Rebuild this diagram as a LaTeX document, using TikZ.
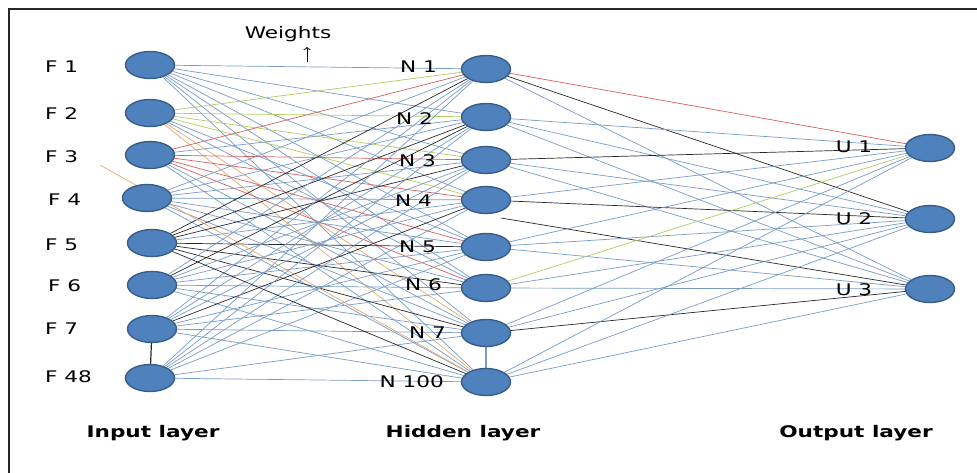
\documentclass[tikz,border=0pt]{standalone}
\usepackage{fontspec}
\setmainfont{DejaVu Sans}[FakeStretch=1.35]
\usetikzlibrary{shapes.geometric,backgrounds,arrows.meta}
\definecolor{nfill}{RGB}{79,129,189}
\definecolor{nedge}{RGB}{56,93,138}
\definecolor{wblue}{RGB}{120,155,200}
\definecolor{wred}{RGB}{215,95,95}
\definecolor{wgreen}{RGB}{175,205,95}
\definecolor{worange}{RGB}{225,170,110}
\definecolor{wblack}{RGB}{40,40,40}
\begin{document}
\begin{tikzpicture}[x=1pt,y=-1pt,
  neuron/.style={ellipse,fill=nfill,draw=nedge,line width=1.4pt,minimum width=49pt,minimum height=27pt,inner sep=0pt},
  wire/.style={line width=0.7pt,wblue},
  lbl/.style={font=\fontsize{16}{18}\selectfont,inner sep=0pt},
  title/.style={font=\fontsize{16}{18}\selectfont\bfseries,inner sep=0pt}]
\useasboundingbox (0,0) rectangle (977,473);
\draw[line width=2pt,black!85] (9,473) -- (9,9) -- (977,9);
% layers
\foreach \n/\x/\y in {1/150/65,2/150/113,3/150/155,4/147/198,5/152/243,6/152/285,7/152/329,48/150/378}
  \node[neuron] (f\n) at (\x,\y) {};
\foreach \n/\y in {1/69,2/117,3/160,4/200,5/247,6/288,7/333,100/382}
  \node[neuron] (n\n) at (486,\y) {};
\foreach \n/\y in {1/148,2/219,3/289}
  \node[neuron] (u\n) at (930,\y) {};
\coordinate (stray) at (100,165);
\coordinate (stray2) at (501,218);
% weights
\begin{scope}[on background layer]
\foreach \a/\b/\c in {
  f1/n1/wblue,f1/n2/wblue,f1/n3/wblue,f1/n4/wblue,f1/n5/wblue,f1/n6/wblue,f1/n7/wblue,f1/n100/wblue,
  f2/n1/wgreen,f2/n2/wgreen,f2/n3/wgreen,f2/n4/wgreen,f2/n5/wblue,f2/n6/wblue,f2/n7/worange,f2/n100/worange,
  f3/n1/wred,f3/n3/wred,f3/n4/wred,f3/n5/wred,f3/n6/wred,f3/n2/wblue,f3/n7/wblue,f3/n100/wblue,
  f4/n1/wblue,f4/n2/wblue,f4/n3/wblue,f4/n4/wblue,f4/n5/wblue,f4/n6/wblue,f4/n7/wblue,f4/n100/wblue,
  f5/n1/wblack,f5/n2/wblack,f5/n3/wblack,f5/n4/wblue,f5/n5/wblack,f5/n6/wblack,f5/n7/wblack,
  f6/n1/wblue,f6/n2/wblack,f6/n3/wblue,f6/n4/wblue,f6/n5/wblue,f6/n6/wblue,f6/n7/wblue,f6/n100/wblue,
  f7/n1/wblue,f7/n2/wblue,f7/n3/wblue,f7/n4/wblack,f7/n5/wblue,f7/n6/wblue,f7/n7/wblue,f7/n100/wblue,
  f48/n1/wblue,f48/n2/wblue,f48/n3/wblue,f48/n4/wblue,f48/n5/wblue,f48/n7/wblue,f48/n100/wblue,
  stray/n100/worange,
  n1/u1/wred,n1/u2/wblack,n1/u3/wblue,
  n2/u1/wblue,n2/u2/wblue,n2/u3/wblue,
  n3/u1/wblack,n3/u2/wblue,n3/u3/wblue,
  n4/u1/wblue,n4/u2/wblack,stray2/u3/wblack,
  n5/u1/wblue,n5/u2/wblue,n5/u3/wblue,
  n6/u2/wblue,n6/u3/wblue,
  n7/u1/wblue,n7/u2/wblue,n7/u3/wblack,
  n100/u1/wblue,n100/u2/wblue,n100/u3/wblue}
  \draw[wire,\c] (\a) -- (\b);
\draw[wire,wblack,line width=1.2pt] (f7) -- (f48);
\draw[wire,line width=1.2pt] (n7) -- (n100);
\end{scope}
\draw[wire,wblack] (f5) -- (n100);
\draw[wire,wgreen] (n6) -- (u1);
% labels
\foreach \n/\x/\y in {1/45/67,2/45/114,3/45/157,4/48/200,5/45/245,6/48/286,7/45/329,48/45/377}
  \node[lbl,anchor=west] (lf\n) at (\x,\y) {F \n};
\foreach \n/\x/\y in {1/437/67,2/433/119,3/436/161,4/432/201,5/436/247,6/442/285,7/446/333,100/444/382}
  \node[lbl,anchor=east] (ln\n) at (\x,\y) {N \n};
\foreach \n/\y in {1/147,2/219,3/290}
  \node[lbl] (lu\n) at (854,\y) {U \n};
\node[lbl] (wt) at (288,34) {Weights};
\coordinate (wa) at (307,62);
\coordinate (wb) at (307,47);
\draw[-{To[length=3pt,width=7pt]},line width=0.8pt] (wa) -- (wb);
\node[title] (tin) at (153,433) {Input layer};
\node[title] (thid) at (463,433) {Hidden layer};
\node[title] (tout) at (856,433) {Output layer};
\end{tikzpicture}
\end{document}
